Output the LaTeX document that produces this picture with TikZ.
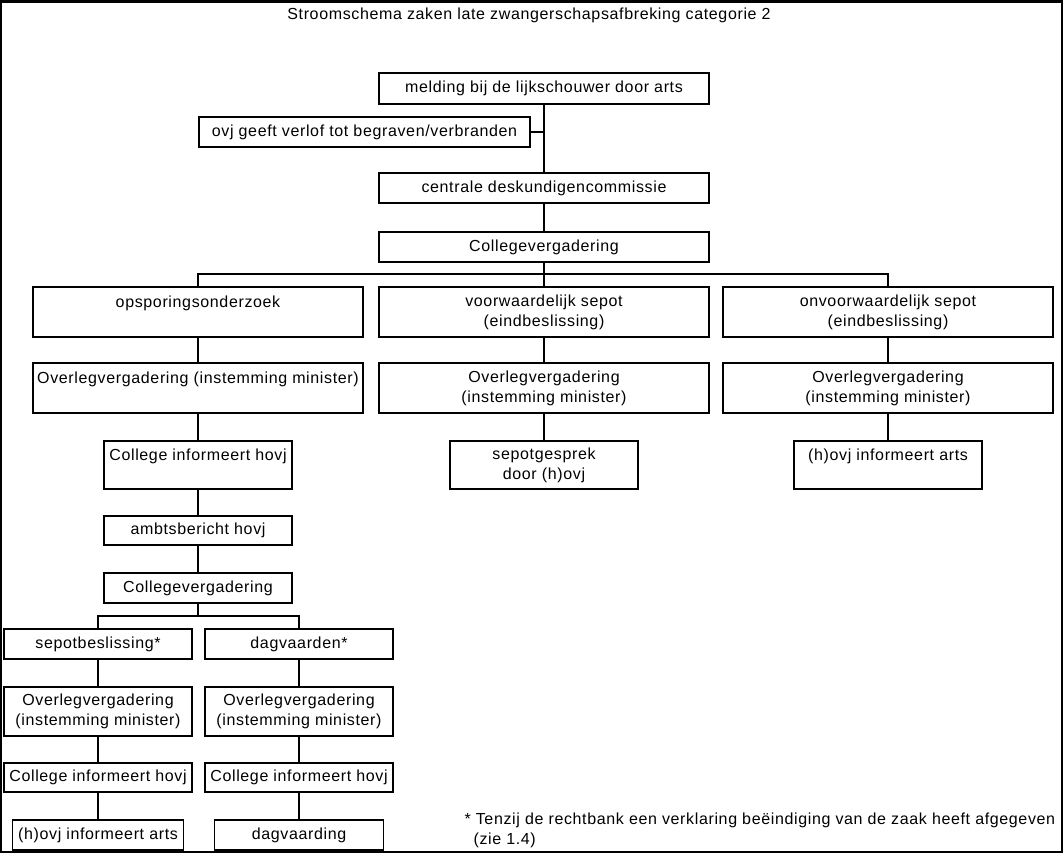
\documentclass[tikz,border=0pt]{standalone}
\usepackage{fontspec}
\setmainfont{Liberation Sans}[LetterSpace=4.0]
\usepackage{tikz}
\usetikzlibrary{positioning}

\tikzset{
  flowbox/.style={draw, line width=1.6pt, inner sep=0pt, align=center},
  wide/.style={flowbox, minimum width=330pt},
  small/.style={flowbox, minimum width=188pt},
  link/.style={line width=1.6pt}
}

\begin{document}
\begin{tikzpicture}[x=1pt, y=-1pt, font=\fontsize{16}{20}\selectfont]
            \useasboundingbox (0,0) rectangle (1063,853);
            % Frame round the page
            \draw[line width=1.6pt] (1,2) rectangle (1062,852);
            \draw[line width=3pt] (0,1.5) -- (1063,1.5);
            % Title
            \node (title) at (529,15) {Stroomschema zaken late zwangerschapsafbreking categorie 2};
            % Draw the top column
            \node[wide, minimum height=31pt] (mel) at (544,88.5) {melding bij de lijkschouwer door arts};
            \node[wide, minimum height=30pt, minimum width=331pt] (ovj) at (364.5,132) {ovj geeft verlof tot begraven/verbranden};
            \node[wide, minimum height=30pt] (cdc) at (544,188) {centrale deskundigencommissie};
            \node[wide, minimum height=30pt] (cv) at (544,247) {Collegevergadering};
            % Draw the three branches
            \node[wide, minimum height=50pt] (ops) at (198,312) {opsporingsonderzoek\\\mbox{}};
            \node[wide, minimum height=50pt] (vws) at (544,312) {voorwaardelijk sepot\\(eindbeslissing)};
            \node[wide, minimum height=50pt] (ovs) at (888,312) {onvoorwaardelijk sepot\\(eindbeslissing)};
            \node[wide, minimum height=50pt] (ovlOps) at (198,388) {Overlegvergadering (instemming minister)\\\mbox{}};
            \node[wide, minimum height=50pt] (ovlVws) at (544,388) {Overlegvergadering\\(instemming minister)};
            \node[wide, minimum height=50pt] (ovlOvs) at (888,388) {Overlegvergadering\\(instemming minister)};
            \node[small, minimum height=48pt] (cih) at (198,465) {College informeert hovj\\\mbox{}};
            \node[small, minimum height=48pt] (sgp) at (544,465) {sepotgesprek\\door (h)ovj};
            \node[small, minimum height=48pt] (ioa) at (888,465) {(h)ovj informeert arts\\\mbox{}};
            % Draw the rest of the opsporing column
            \node[small, minimum height=29pt] (amb) at (198,530.5) {ambtsbericht hovj};
            \node[small, minimum height=30pt] (cvOps) at (198,588) {Collegevergadering};
            \node[small, minimum height=30pt] (sep) at (98,644) {sepotbeslissing*};
            \node[small, minimum height=30pt] (dag) at (299,644) {dagvaarden*};
            \node[small, minimum height=49pt] (ovlSep) at (98,711.5) {Overlegvergadering\\(instemming minister)};
            \node[small, minimum height=49pt] (ovlDag) at (299,711.5) {Overlegvergadering\\(instemming minister)};
            \node[small, minimum height=29pt] (cihSep) at (98,777.5) {College informeert hovj};
            \node[small, minimum height=29pt] (cihDag) at (299,777.5) {College informeert hovj};
            \node[flowbox, minimum width=171pt, minimum height=30pt] (ioaSep) at (98,835) {(h)ovj informeert arts};
            \node[flowbox, minimum width=169pt, minimum height=30pt] (dvg) at (299,835) {dagvaarding};
            % Footnote
            \node[anchor=west, align=left] (note) at (461,830) {* Tenzij de rechtbank een verklaring beëindiging van de zaak heeft afgegeven\\\hspace{9pt}(zie 1.4)};
            % Draw connecting lines
            \coordinate (busTop) at (544,274);
            \coordinate (busOps) at (198,616);
            \draw[link] (mel.south) -- (cdc.north);
            \draw[link] (ovj.east) -- (ovj.east -| mel.south);
            \draw[link] (cdc.south) -- (cv.north);
            \draw[link] (cv.south) -- (busTop);
            \draw[link] (ops.north) |- (busTop) -| (ovs.north);
            \draw[link] (busTop) -- (vws.north);
            \draw[link] (ops.south) -- (ovlOps.north);
            \draw[link] (vws.south) -- (ovlVws.north);
            \draw[link] (ovs.south) -- (ovlOvs.north);
            \draw[link] (ovlOps.south) -- (cih.north);
            \draw[link] (ovlVws.south) -- (sgp.north);
            \draw[link] (ovlOvs.south) -- (ioa.north);
            \draw[link] (cih.south) -- (amb.north);
            \draw[link] (amb.south) -- (cvOps.north);
            \draw[link] (cvOps.south) -- (busOps);
            \draw[link] (sep.north) |- (busOps) -| (dag.north);
            \draw[link] (sep.south) -- (ovlSep.north);
            \draw[link] (dag.south) -- (ovlDag.north);
            \draw[link] (ovlSep.south) -- (cihSep.north);
            \draw[link] (ovlDag.south) -- (cihDag.north);
            \draw[link] (cihSep.south) -- (ioaSep.north);
            \draw[link] (cihDag.south) -- (dvg.north);
        \end{tikzpicture}
\end{document}
